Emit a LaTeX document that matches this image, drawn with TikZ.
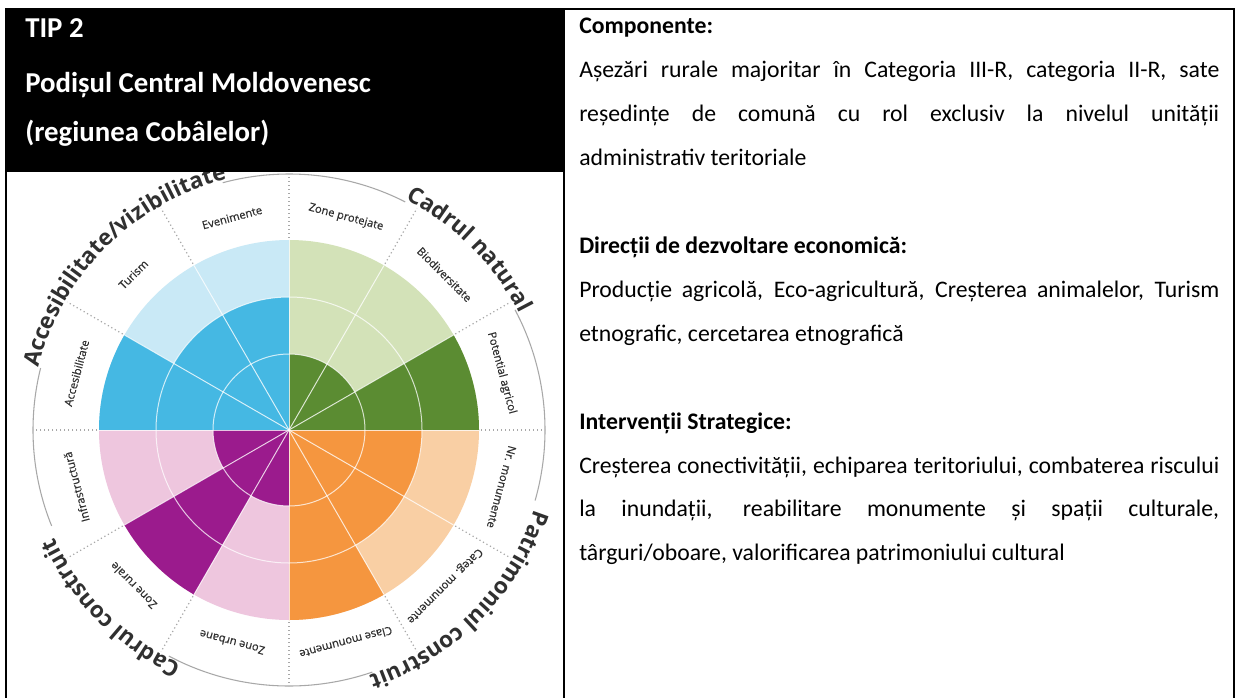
\documentclass[tikz,border=0pt]{standalone}
\usepackage{fontspec}
\newfontfamily\calib{Carlito}
\newfontfamily\osans{Open Sans}
\newfontfamily\osansm[FakeBold=0.6]{Open Sans}
\usetikzlibrary{decorations.text}
\definecolor{lblue}{HTML}{C9E9F6}
\definecolor{dblue}{HTML}{45B8E3}
\definecolor{lgreen}{HTML}{D3E2B8}
\definecolor{dgreen}{HTML}{5B8C32}
\definecolor{lpink}{HTML}{EEC6DE}
\definecolor{dpurple}{HTML}{9B1B8D}
\definecolor{dorange}{HTML}{F5963F}
\definecolor{lorange}{HTML}{F9CFA4}
\definecolor{txtgray}{HTML}{303030}
\definecolor{ringgray}{HTML}{A8A8A8}
\begin{document}
\begin{tikzpicture}[x=0.75pt,y=0.75pt,
  hdr/.style={anchor=base west, inner sep=0pt, text=white, font=\calib\bfseries\fontsize{21.6}{26}\selectfont},
  body/.style={anchor=base west, inner sep=0pt, font=\calib\fontsize{17.8}{21}\selectfont},
  bodyb/.style={anchor=base west, inner sep=0pt, font=\calib\bfseries\fontsize{17.8}{21}\selectfont},
  seclbl/.style={inner sep=0pt, text=txtgray, font=\osansm\fontsize{8.4}{10}\selectfont},
  gridline/.style={white, line width=0.75pt, opacity=0.75},
  dotline/.style={ringgray, line width=0.9pt, dash pattern=on 0.9pt off 2.1pt},
  ringline/.style={ringgray, line width=0.8pt},
  tabline/.style={black, line width=1.8pt}]
\useasboundingbox (0,0) rectangle (1241,697);
\fill[white] (0,0) rectangle (1241,697);

% ---------- wheel ----------
\begin{scope}[shift={(289,267)}]
\coordinate (C) at (0,0);
\foreach \a/\d/\lc/\dc in {60/76/lgreen/dgreen, 30/76/lgreen/dgreen, 0/190/lgreen/dgreen,
  90/133/lblue/dblue, 120/133/lblue/dblue, 150/190/lblue/dblue,
  180/76/lpink/dpurple, 210/190/lpink/dpurple, 240/76/lpink/dpurple,
  270/190/lorange/dorange, 300/133/lorange/dorange, 330/133/lorange/dorange}{
  \fill[\lc] (C) -- (\a:190) arc[start angle=\a, delta angle=30, radius=190] -- cycle;
  \fill[\dc] (C) -- (\a:\d) arc[start angle=\a, delta angle=30, radius=\d] -- cycle;
}
\draw[gridline] (C) circle[radius=76];
\draw[gridline] (C) circle[radius=133];
\foreach \a in {0,30,...,330}{
  \draw[gridline] (C) -- (\a:190);
  \draw[dotline] (\a:192) -- (\a:256);
}
% outer ring, interrupted by the titles
\draw[ringline] (63:256) arc[start angle=63, end angle=105, radius=256];
\draw[ringline] (-16:256) arc[start angle=-16, end angle=28, radius=256];
\draw[ringline] (242:256) arc[start angle=242, end angle=289, radius=256];
\draw[ringline] (166:256) arc[start angle=166, end angle=202, radius=256];

% sector labels
\foreach \a/\t [count=\i] in {15/Potential agricol, 45/Biodiversitate, 75/Zone protejate,
  105/Evenimente, 135/Turism, 165/Accesibilitate,
  195/Infrastructură, 225/Zone rurale, 255/Zone urbane,
  285/Clase monumente, 315/Categ. monumente, 345/Nr. monumente}{
  \node[seclbl, rotate=\a-90] (sec\i) at (\a:220) {\t};
}

% category titles along the circle
\path[decorate, decoration={text along path, text align=center, text color=txtgray,
  text={|\osans\bfseries\fontsize{16.9}{18}\selectfont|Accesibilitate/vizibilitate}}]
  (180:258) arc[start angle=180, end angle=90, radius=258];
\path[decorate, decoration={text along path, text align=center, text color=txtgray,
  text={|\osans\bfseries\fontsize{16.9}{18}\selectfont|Cadrul natural}}]
  (90:258) arc[start angle=90, end angle=0, radius=258];
\path[decorate, decoration={text along path, text align=center, text color=txtgray,
  text={|\osans\bfseries\fontsize{16.9}{18}\selectfont|Patrimoniul construit}}]
  (0:258) arc[start angle=0, end angle=-90, radius=258];
\path[decorate, decoration={text along path, text align=center, text color=txtgray,
  text={|\osans\bfseries\fontsize{16.9}{18}\selectfont|Cadrul construit}}]
  (270:258) arc[start angle=270, end angle=180, radius=258];
\end{scope}

% ---------- header ----------
\fill[black] (6,525) rectangle (564,688);
\node[hdr] (tip) at (25,659) {TIP 2};
\node[hdr] (reg) at (25,604) {Podișul Central Moldovenesc};
\node[hdr] (sub) at (25,555.3) {(regiunea Cobâlelor)};

% ---------- right column ----------
\node[bodyb] (h1) at (579,663) {Componente:};
\node[body] (t11) at (579,619.1) {\makebox[480pt][s]{Așezări rurale majoritar în Categoria III-R, categoria II-R, sate}};
\node[body] (t12) at (579,575.2) {\makebox[480pt][s]{reședințe de comună cu rol exclusiv la nivelul unității}};
\node[body] (t13) at (579,531.3) {administrativ teritoriale};
\node[bodyb] (h2) at (579,443.5) {Direcții de dezvoltare economică:};
\node[body] (t21) at (579,399.6) {\makebox[480pt][s]{Producție agricolă, Eco-agricultură, Creșterea animalelor, Turism}};
\node[body] (t22) at (579,355.7) {etnografic, cercetarea etnografică};
\node[bodyb] (h3) at (579,267.9) {Intervenții Strategice:};
\node[body] (t31) at (579,224) {\makebox[480pt][s]{Creșterea conectivității, echiparea teritoriului, combaterea riscului}};
\node[body] (t32) at (579,180.1) {\makebox[480pt][s]{la inundații, reabilitare monumente și spații culturale,}};
\node[body] (t33) at (579,136.2) {târguri/oboare, valorificarea patrimoniului cultural};

% ---------- table lines ----------
\draw[tabline] (6,-2) -- (6,688) -- (1234,688) -- (1234,-2);
\draw[tabline] (564,-2) -- (564,688);
\end{tikzpicture}
\end{document}
